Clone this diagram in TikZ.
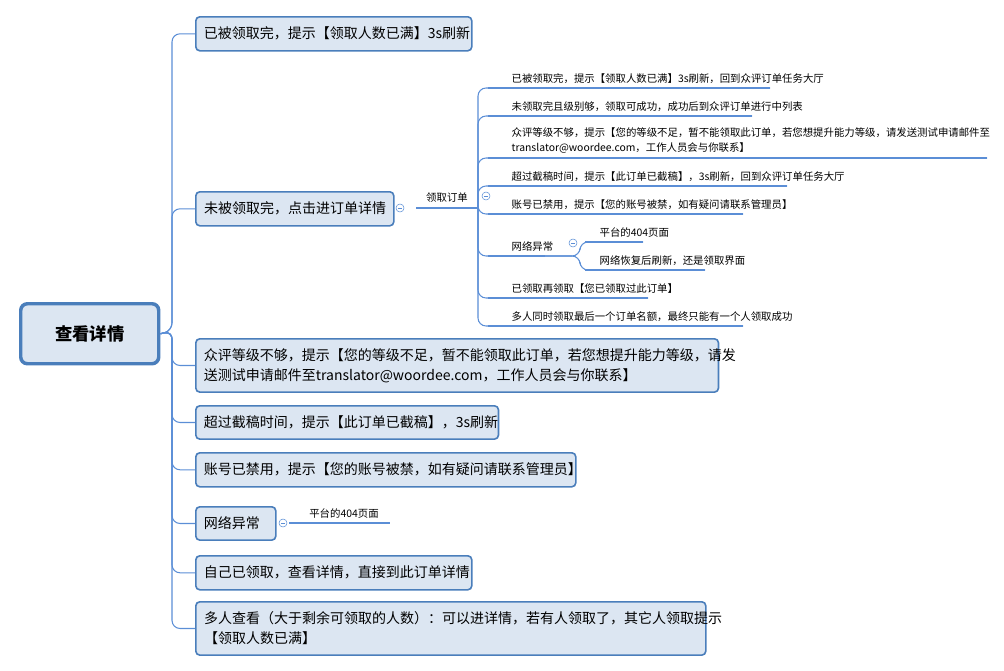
\documentclass[tikz,border=0pt]{standalone}
\usepackage{fontspec}
\setmainfont{Noto Sans CJK SC}
\definecolor{bd}{HTML}{4A7EBB}
\definecolor{bf}{HTML}{DCE6F2}
\definecolor{ln}{HTML}{5B8ED6}
\begin{document}
\begin{tikzpicture}[x=0.75pt,y=-0.75pt,
  lbox/.style={draw=bd,fill=bf,line width=1.2pt,rounded corners=3pt,anchor=north west,inner xsep=6pt,inner ysep=0pt,align=left,font=\fontsize{10.5}{15}\selectfont},
  sub/.style={anchor=south west,inner sep=1pt,font=\fontsize{7.8}{11}\selectfont},
  conn/.style={draw=ln,line width=0.8pt,rounded corners=6pt},
  ul/.style={draw=ln,line width=1.6pt},
  tog/.style={circle,draw=ln,fill=white,inner sep=0pt,minimum size=6pt,path picture={\draw[ln,line width=0.5pt] ([xshift=-1.6pt]path picture bounding box.center)--([xshift=1.6pt]path picture bounding box.center);}}]
\useasboundingbox (0,0) rectangle (1004,671);
\node[draw=bd,fill=bf,line width=2.6pt,rounded corners=5pt,minimum width=138pt*0.75/0.75*0.75,minimum height=45pt,anchor=north west,font=\bfseries\fontsize{13}{15}\selectfont] (root) at (19,302) {查看详情};
\node[lbox,minimum width=207pt,minimum height=25.5pt,text width=195pt] (b1) at (195,16) {已被领取完，提示【领取人数已满】3s刷新};
\node[lbox,minimum width=148.5pt,minimum height=25.5pt,text width=136pt] (b2) at (195,191) {未被领取完，点击进订单详情};
\node[lbox,minimum width=391.5pt,minimum height=40pt,text width=380pt] (b3) at (195,338) {众评等级不够，提示【您的等级不足，暂不能领取此订单，若您想提升能力等级，请发\\送测试申请邮件至translator@woordee.com，工作人员会与你联系】};
\node[lbox,minimum width=226.5pt,minimum height=25pt,text width=215pt] (b4) at (195,405) {超过截稿时间，提示【此订单已截稿】，3s刷新};
\node[lbox,minimum width=285pt,minimum height=25.5pt,text width=273pt] (b5) at (195,452) {账号已禁用，提示【您的账号被禁，如有疑问请联系管理员】};
\node[lbox,minimum width=60pt,minimum height=25pt,text width=48pt] (b6) at (195,506) {网络异常};
\node[lbox,minimum width=207pt,minimum height=25.5pt,text width=195pt] (b7) at (195,555) {自己已领取，查看详情，直接到此订单详情};
\node[lbox,minimum width=382.5pt,minimum height=40pt,text width=370pt] (b8) at (195,601) {多人查看（大于剩余可领取的人数）：可以进详情，若有人领取了，其它人领取提示\\【领取人数已满】};
\coordinate (rt) at (172,331);
\foreach \b in {b1,b2,b3,b4,b5,b6,b7,b8} \draw[conn] (root.east) -- (rt) |- (\b.west);
% level 2 under b2
\node[tog] (t2) at (400,208) {};
\coordinate (kq0) at (416,208);
\coordinate (kq1) at (478,208);
\draw[ul] (kq0) -- (kq1);
\node[sub,anchor=south] (kq) at (447,204) {领取订单};
\node[tog] (t3) at (486,196) {};
\foreach \y/\e/\n/\t in {88/770/s1/{已被领取完，提示【领取人数已满】3s刷新，回到众评订单任务大厅},116/752/s2/{未领取完且级别够，领取可成功，成功后到众评订单进行中列表},186/787/s4/{超过截稿时间，提示【此订单已截稿】，3s刷新，回到众评订单任务大厅},214/743/s5/{账号已禁用，提示【您的账号被禁，如有疑问请联系管理员】},298/648/s7/{已领取再领取【您已领取过此订单】},326/743/s8/{多人同时领取最后一个订单名额，最终只能有一个人领取成功}}{
  \coordinate (\n) at (\e,\y);
  \draw[conn] (kq1) |- (\n);
  \draw[ul] (488,\y) -- (\n);
  \node[sub] at (510,\y-3) {\t};
}
\coordinate (s3) at (987,158);
\draw[conn] (kq1) |- (s3);
\draw[ul] (488,158) -- (s3);
\node[sub,align=left] at (510,155) {众评等级不够，提示【您的等级不足，暂不能领取此订单，若您想提升能力等级，请发送测试申请邮件至\\translator@woordee.com，工作人员会与你联系】};
\coordinate (s6) at (545,256);
\draw[conn] (kq1) |- (s6);
\draw[ul] (488,256) -- (s6);
\node[sub] at (510,253) {网络异常};
\node[tog] (t4) at (573,243) {};
\coordinate (s6a) at (643,242);
\coordinate (s6b) at (705,270);
\draw[conn] (s6) -- (580,256) |- (s6a);
\draw[conn] (s6) -- (580,256) |- (s6b);
\draw[ul] (585,242) -- (s6a);
\draw[ul] (585,270) -- (s6b);
\node[sub] at (598,239) {平台的404页面};
\node[sub] at (598,267) {网络恢复后刷新，还是领取界面};
% b6 child
\node[tog] (t6) at (283,523) {};
\coordinate (n1) at (390,523);
\draw[ul] (289,523) -- (n1);
\node[sub,anchor=south] at (344,520) {平台的404页面};
\end{tikzpicture}
\end{document}
